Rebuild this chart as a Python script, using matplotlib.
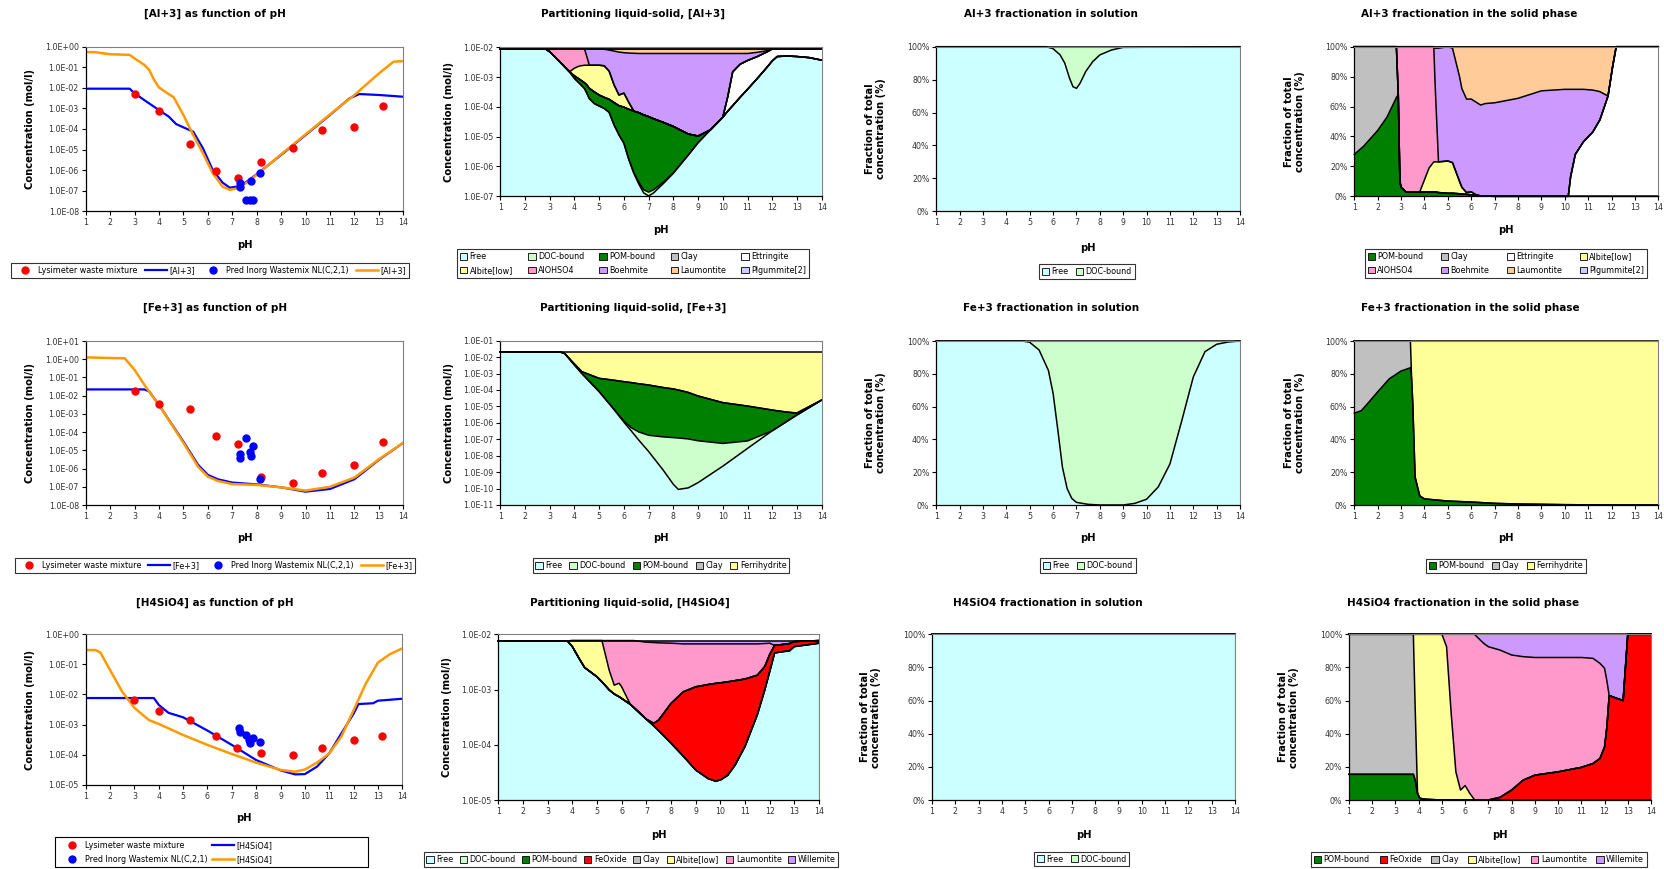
"""
Al+3 / Fe+3 / H4SiO4 vs pH: concentration curves, partitioning liquid-solid,
fractionation in solution and in the solid phase (3 x 4 panels)
"""
import matplotlib
matplotlib.use("Agg")
import matplotlib.pyplot as plt
import numpy as np
from matplotlib.lines import Line2D
from matplotlib.patches import Patch, Rectangle
from matplotlib.ticker import FixedLocator, FuncFormatter, NullLocator

plt.rcParams["font.family"] = ["DejaVu Sans"]

# ==================== 数据 ====================
# measured / predicted points
lys_ph = [3.0, 4.0, 5.27, 6.35, 7.22, 8.18, 9.5, 10.69, 12.0, 13.17]
lys_al = [5.0e-3, 7.8e-4, 1.9e-5, 9.0e-7, 4.0e-7, 2.4e-6, 1.15e-5, 8.9e-5, 1.26e-4, 1.26e-3]
lys_fe = [1.8e-2, 3.3e-3, 1.95e-3, 6.5e-5, 2.3e-5, 3.6e-7, 1.6e-7, 6.0e-7, 1.6e-6, 3.0e-5]
lys_si = [6.6e-3, 2.8e-3, 1.38e-3, 4.2e-4, 1.6e-4, 1.1e-4, 9.5e-5, 1.7e-4, 3.0e-4, 4.3e-4]

pred_ph = [7.30, 7.33, 7.58, 7.72, 7.76, 7.86, 8.15]
pred_al = [2.5e-7, 1.5e-7, 3.5e-8, 3.5e-8, 3.0e-7, 3.5e-8, 7.0e-7]
pred_fe = [6.3e-6, 3.6e-6, 5.0e-5, 8.5e-6, 4.9e-6, 1.7e-5, 2.8e-7]
pred_si = [7.5e-4, 5.8e-4, 4.5e-4, 3.1e-4, 2.4e-4, 3.7e-4, 2.6e-4]

# model curves (blue = model 1, orange = model 2)
al_blue_ph = [1.0, 2.8, 3.0, 3.5, 4.0, 4.4, 4.7, 5.0, 5.4, 5.8, 6.2, 6.6, 6.9, 7.2, 7.5, 8.0,
              9.0, 10.0, 11.0, 11.8, 12.2, 13.0, 14.0]
al_blue = [9.1e-3, 9.1e-3, 5.4e-3, 2.1e-3, 8.3e-4, 4.0e-4, 1.74e-4, 1.2e-4, 7.4e-5, 1.15e-5, 1.0e-6,
           2.5e-7, 1.4e-7, 1.6e-7, 2.3e-7, 6.3e-7, 5.5e-6, 5.1e-5, 4.8e-4, 3.1e-3, 5.0e-3, 4.5e-3, 3.7e-3]
al_orange_ph = [1.0, 1.4, 2.0, 2.8, 3.0, 3.4, 3.6, 3.8, 4.0, 4.3, 4.6, 5.0, 5.4, 5.8, 6.2, 6.6, 6.9,
                7.2, 7.6, 8.0, 9.0, 10.0, 11.0, 12.0, 13.0, 13.6, 14.0]
al_orange = [0.55, 0.54, 0.43, 0.40, 0.27, 0.13, 0.074, 0.024, 0.0105, 5.9e-3, 3.5e-3, 4.8e-4, 5.1e-5,
             6.6e-6, 7.1e-7, 1.6e-7, 1.1e-7, 1.3e-7, 2.5e-7, 5.9e-7, 5.9e-6, 5.5e-5, 5.1e-4, 4.5e-3,
             5.0e-2, 0.186, 0.2]

fe_blue_ph = [1.0, 3.4, 3.6, 4.0, 5.0, 5.6, 6.0, 6.4, 7.0, 8.0, 9.0, 10.0, 11.0, 12.0, 13.0, 14.0]
fe_blue = [2.2e-2, 2.2e-2, 1.7e-2, 3.1e-3, 3.0e-5, 1.6e-6, 4.5e-7, 2.6e-7, 1.7e-7, 1.35e-7, 9.3e-8,
           5.4e-8, 7.6e-8, 2.6e-7, 3.0e-6, 2.6e-5]
fe_orange_ph = [1.0, 2.6, 3.0, 3.5, 4.0, 5.0, 5.6, 6.0, 6.4, 7.0, 8.0, 9.0, 10.0, 11.0, 12.0, 13.0, 14.0]
fe_orange = [1.26, 1.12, 0.26, 0.025, 3.1e-3, 2.6e-5, 1.26e-6, 3.6e-7, 2.1e-7, 1.4e-7, 1.26e-7, 9.3e-8,
             6.2e-8, 1.0e-7, 3.2e-7, 3.2e-6, 2.6e-5]

si_blue_ph = [1.0, 3.8, 4.0, 4.4, 5.0, 6.0, 7.0, 8.0, 9.0, 9.6, 10.0, 10.5, 11.0, 11.5, 12.0, 12.2,
              12.8, 13.0, 14.0]
si_blue = [7.6e-3, 7.6e-3, 4.5e-3, 2.45e-3, 1.74e-3, 6.3e-4, 2.1e-4, 6.6e-5, 3.0e-5, 2.2e-5, 2.25e-5,
           4.0e-5, 1.1e-4, 5.1e-4, 2.3e-3, 4.8e-3, 5.1e-3, 6.2e-3, 7.2e-3]
si_orange_ph = [1.0, 1.4, 1.6, 2.0, 2.5, 3.0, 3.6, 4.0, 5.0, 6.0, 7.0, 8.0, 9.0, 9.6, 10.0, 10.5, 11.0,
                11.5, 12.0, 12.5, 13.0, 13.5, 14.0]
si_orange = [0.3, 0.3, 0.25, 6.5e-2, 1.23e-2, 3.6e-3, 1.4e-3, 1.05e-3, 4.5e-4, 2.1e-4, 1.05e-4, 5.4e-5,
             3.1e-5, 2.7e-5, 3.2e-5, 5.4e-5, 1.1e-4, 4.0e-4, 3.0e-3, 2.3e-2, 0.115, 0.22, 0.34]

# partitioning liquid-solid: upper edge of each stacked layer (mol/l)
al_part_ph = [1.0, 2.8, 3.0, 3.4, 3.8, 4.0, 4.2, 4.4, 4.5, 4.6, 4.8, 5.0, 5.2, 5.4, 5.6, 5.8, 6.0, 6.2,
              6.4, 6.6, 6.8, 7.0, 7.2, 7.6, 8.0, 8.6, 9.0, 9.5, 10.0, 10.2, 10.4, 10.7, 11.0, 11.4,
              11.8, 12.0, 12.2, 12.6, 13.0, 13.5, 14.0]
al_free = [9.1e-3, 9.1e-3, 7.1e-3, 3.3e-3, 1.5e-3, 9.0e-4, 6.2e-4, 4.2e-4, 2.9e-4, 1.9e-4, 1.3e-4,
           1.07e-4, 8.9e-5, 6.6e-5, 2.5e-5, 1.15e-5, 6.0e-6, 1.7e-6, 5.9e-7, 2.6e-7, 1.3e-7, 1.03e-7,
           1.3e-7, 2.7e-7, 5.9e-7, 2.4e-6, 6.3e-6, 1.7e-5, 4.5e-5, 7.2e-5, 1.1e-4, 2.1e-4, 3.9e-4,
           9.1e-4, 2.2e-3, 3.5e-3, 4.9e-3, 5.1e-3, 4.9e-3, 4.5e-3, 3.7e-3]
al_doc = [9.1e-3, 9.1e-3, 7.1e-3, 3.3e-3, 1.5e-3, 9.0e-4, 6.2e-4, 4.2e-4, 2.9e-4, 1.9e-4, 1.3e-4,
          1.07e-4, 8.9e-5, 6.6e-5, 2.5e-5, 1.15e-5, 6.0e-6, 1.7e-6, 6.3e-7, 3.0e-7, 1.65e-7, 1.38e-7,
          1.65e-7, 3.0e-7, 6.2e-7, 2.4e-6, 6.3e-6, 1.7e-5, 4.5e-5, 7.2e-5, 1.1e-4, 2.1e-4, 3.9e-4,
          9.1e-4, 2.2e-3, 3.5e-3, 4.9e-3, 5.1e-3, 4.9e-3, 4.5e-3, 3.7e-3]
al_pom = [9.1e-3, 9.1e-3, 7.1e-3, 3.3e-3, 1.5e-3, 1.1e-3, 8.5e-4, 6.5e-4, 5.5e-4, 4.2e-4, 3.2e-4,
          2.5e-4, 2.1e-4, 1.8e-4, 1.4e-4, 1.1e-4, 9.8e-5, 8.3e-5, 7.2e-5, 6.4e-5, 5.4e-5, 4.7e-5,
          4.0e-5, 3.0e-5, 2.2e-5, 1.23e-5, 1.05e-5, 1.7e-5, 4.5e-5, 7.2e-5, 1.1e-4, 2.1e-4, 3.9e-4,
          9.1e-4, 2.2e-3, 3.5e-3, 4.9e-3, 5.1e-3, 4.9e-3, 4.5e-3, 3.7e-3]
al_ett = [9.1e-3, 9.1e-3, 7.1e-3, 3.3e-3, 1.5e-3, 1.1e-3, 8.5e-4, 6.5e-4, 5.5e-4, 4.2e-4, 3.2e-4,
          2.5e-4, 2.1e-4, 1.8e-4, 1.4e-4, 1.1e-4, 9.8e-5, 8.3e-5, 7.2e-5, 6.4e-5, 5.4e-5, 4.7e-5,
          4.0e-5, 3.0e-5, 2.2e-5, 1.23e-5, 1.05e-5, 1.7e-5, 4.5e-5, 2.2e-4, 1.5e-3, 2.7e-3, 3.6e-3,
          4.9e-3, 7.1e-3, 8.8e-3, 9.1e-3, 9.1e-3, 9.1e-3, 9.1e-3, 9.1e-3]
al_alb = [9.1e-3, 9.1e-3, 7.1e-3, 3.3e-3, 1.5e-3, 2.0e-3, 2.35e-3, 2.5e-3, 2.5e-3, 2.5e-3, 2.5e-3,
          2.5e-3, 2.4e-3, 1.6e-3, 5.5e-4, 2.5e-4, 2.9e-4, 1.4e-4, 7.2e-5, 6.4e-5, 5.4e-5, 4.7e-5,
          4.0e-5, 3.0e-5, 2.2e-5, 1.23e-5, 1.05e-5, 1.7e-5, 4.5e-5, 2.2e-4, 1.5e-3, 2.7e-3, 3.6e-3,
          4.9e-3, 7.1e-3, 8.8e-3, 9.1e-3, 9.1e-3, 9.1e-3, 9.1e-3, 9.1e-3]
al_aloh = [9.1e-3, 9.1e-3, 9.1e-3, 9.1e-3, 9.1e-3, 9.1e-3, 9.1e-3, 9.1e-3, 4.9e-3, 2.5e-3, 2.5e-3,
           2.5e-3, 2.4e-3, 1.6e-3, 5.5e-4, 2.5e-4, 2.9e-4, 1.4e-4, 7.2e-5, 6.4e-5, 5.4e-5, 4.7e-5,
           4.0e-5, 3.0e-5, 2.2e-5, 1.23e-5, 1.05e-5, 1.7e-5, 4.5e-5, 2.2e-4, 1.5e-3, 2.7e-3, 3.6e-3,
           4.9e-3, 7.1e-3, 8.8e-3, 9.1e-3, 9.1e-3, 9.1e-3, 9.1e-3, 9.1e-3]
al_boeh = [9.1e-3, 9.1e-3, 9.1e-3, 9.1e-3, 9.1e-3, 9.1e-3, 9.1e-3, 9.1e-3, 9.1e-3, 9.1e-3, 9.1e-3,
           9.0e-3, 8.6e-3, 8.1e-3, 7.5e-3, 6.9e-3, 6.6e-3, 6.4e-3, 6.3e-3, 6.2e-3, 6.2e-3, 6.2e-3,
           6.2e-3, 6.2e-3, 6.2e-3, 6.2e-3, 6.2e-3, 6.2e-3, 6.2e-3, 6.2e-3, 6.2e-3, 6.2e-3, 6.2e-3,
           6.8e-3, 7.7e-3, 9.1e-3, 9.1e-3, 9.1e-3, 9.1e-3, 9.1e-3, 9.1e-3]
al_total = [9.1e-3] * len(al_part_ph)

fe_part_ph = [1.0, 3.4, 3.6, 4.0, 4.3, 5.0, 5.5, 6.0, 6.3, 6.6, 7.0, 7.6, 8.0, 8.2, 8.6, 9.0, 10.0,
              11.0, 12.0, 12.5, 12.8, 13.0, 14.0]
fe_free = [2.1e-2, 2.1e-2, 1.7e-2, 3.3e-3, 1.0e-3, 7.9e-5, 1.0e-5, 1.1e-6, 3.2e-7, 8.9e-8, 1.8e-8,
           1.26e-9, 1.8e-10, 8.9e-11, 1.1e-10, 2.3e-10, 2.3e-9, 2.8e-8, 3.3e-7, 1.0e-6, 1.95e-6,
           3.0e-6, 2.45e-5]
fe_doc = [2.1e-2, 2.1e-2, 1.7e-2, 3.3e-3, 1.0e-3, 7.9e-5, 1.0e-5, 1.3e-6, 5.0e-7, 2.8e-7, 1.75e-7,
          1.4e-7, 1.26e-7, 1.2e-7, 1.05e-7, 8.1e-8, 5.6e-8, 7.9e-8, 3.3e-7, 1.0e-6, 1.95e-6, 3.0e-6,
          2.45e-5]
fe_pom = [2.1e-2, 2.1e-2, 1.7e-2, 3.8e-3, 1.3e-3, 5.1e-4, 4.1e-4, 3.2e-4, 2.8e-4, 2.4e-4, 2.0e-4,
          1.4e-4, 1.15e-4, 1.0e-4, 7.1e-5, 4.3e-5, 1.7e-5, 1.05e-5, 6.0e-6, 4.7e-6, 4.2e-6, 4.0e-6,
          2.45e-5]
fe_total = [2.1e-2] * len(fe_part_ph)

si_part_ph = [1.0, 3.8, 4.0, 4.3, 4.5, 5.0, 5.2, 5.5, 5.7, 5.9, 6.0, 6.35, 6.5, 7.0, 7.3, 7.5, 8.0,
              8.5, 9.0, 9.5, 9.8, 10.0, 10.3, 10.6, 11.0, 11.5, 11.8, 12.0, 12.2, 12.6, 12.8, 13.0, 14.0]
si_free = [7.6e-3, 7.6e-3, 6.0e-3, 3.5e-3, 2.5e-3, 1.7e-3, 1.38e-3, 9.8e-4, 8.3e-4, 7.4e-4, 6.9e-4,
           5.4e-4, 4.7e-4, 2.9e-4, 2.2e-4, 1.8e-4, 1.07e-4, 6.2e-5, 3.5e-5, 2.45e-5, 2.2e-5, 2.3e-5,
           2.8e-5, 4.3e-5, 9.3e-5, 3.5e-4, 9.8e-4, 2.1e-3, 4.6e-3, 4.9e-3, 5.0e-3, 6.0e-3, 6.9e-3]
si_feox = [7.6e-3, 7.6e-3, 6.0e-3, 3.5e-3, 2.5e-3, 1.7e-3, 1.38e-3, 9.8e-4, 8.3e-4, 7.4e-4, 6.9e-4,
           5.4e-4, 4.7e-4, 2.9e-4, 2.45e-4, 2.8e-4, 5.6e-4, 9.1e-4, 1.12e-3, 1.23e-3, 1.29e-3, 1.32e-3,
           1.38e-3, 1.45e-3, 1.55e-3, 1.82e-3, 2.6e-3, 4.3e-3, 6.3e-3, 6.6e-3, 6.8e-3, 7.4e-3, 7.7e-3]
si_alb = [7.6e-3, 7.6e-3, 7.7e-3, 7.7e-3, 7.7e-3, 7.7e-3, 7.7e-3, 2.2e-3, 1.2e-3, 1.3e-3, 1.12e-3,
          5.4e-4, 4.7e-4, 2.9e-4, 2.45e-4, 2.8e-4, 5.6e-4, 9.1e-4, 1.12e-3, 1.23e-3, 1.29e-3, 1.32e-3,
          1.38e-3, 1.45e-3, 1.55e-3, 1.82e-3, 2.6e-3, 4.3e-3, 6.3e-3, 6.6e-3, 6.8e-3, 7.4e-3, 7.7e-3]
si_laum = [7.6e-3, 7.6e-3, 7.7e-3, 7.7e-3, 7.7e-3, 7.7e-3, 7.7e-3, 7.7e-3, 7.7e-3, 7.7e-3, 7.7e-3,
           7.7e-3, 7.7e-3, 7.2e-3, 7.1e-3, 7.0e-3, 6.9e-3, 6.7e-3, 6.7e-3, 6.7e-3, 6.7e-3, 6.7e-3,
           6.7e-3, 6.7e-3, 6.7e-3, 6.7e-3, 6.8e-3, 6.9e-3, 6.3e-3, 6.6e-3, 6.8e-3, 7.4e-3, 7.7e-3]
si_total = [7.7e-3] * len(si_part_ph)

# fractionation in solution: upper edge of stacked layers (%)
al_solu_ph = [1.0, 5.7, 6.0, 6.3, 6.5, 6.7, 6.85, 7.0, 7.15, 7.4, 7.7, 8.0, 8.5, 9.0, 14.0]
al_solu_free = [100, 100, 98.8, 95, 90, 81, 75.7, 74.7, 77.7, 85, 91, 95, 98, 99.6, 100]
fe_solu_ph = [1.0, 4.7, 5.0, 5.4, 5.8, 6.0, 6.2, 6.4, 6.6, 6.8, 7.0, 7.5, 8.0, 9.0, 9.5, 10.0, 10.5,
              11.0, 11.5, 12.0, 12.5, 13.0, 13.5, 14.0]
fe_solu_free = [100, 100, 99.2, 94.5, 82, 68, 46, 23, 10, 4, 1.6, 0.4, 0, 0, 1, 3.5, 11, 25, 51, 78,
                93.5, 98, 99.4, 100]
si_solu_ph = [1.0, 14.0]
si_solu_free = [100, 100]

# fractionation in the solid phase: upper edge of stacked layers (%)
al_sol_ph = [1.0, 1.4, 2.0, 2.4, 2.8, 2.88, 2.95, 3.0, 3.2, 3.8, 4.2, 4.4, 4.45, 4.6, 5.0, 5.2, 5.5,
             5.6, 5.8, 6.0, 6.2, 6.4, 6.6, 7.0, 8.0, 9.0, 10.0, 10.15, 10.25, 10.45, 10.8, 11.2, 11.5,
             11.85, 12.05, 12.2, 13.0, 14.0]
al_sol_pom = [28, 33.5, 44, 53, 66, 68, 10, 6, 3, 2.7, 3, 3, 3, 2.5, 2, 2, 1.7, 1.5, 1.3, 1, 0.6,
              0.3, 0.1, 0, 0, 0, 0, 0, 0, 0, 0, 0, 0, 0, 0, 0, 0, 0]
al_sol_clay = [100, 100, 100, 100, 100, 68, 10, 6, 3, 2.7, 3, 3, 3, 2.5, 2, 2, 1.7, 1.5, 1.3, 1, 0.6,
               0.3, 0.1, 0, 0, 0, 0, 0, 0, 0, 0, 0, 0, 0, 0, 0, 0, 0]
al_sol_ett = [100, 100, 100, 100, 100, 68, 10, 6, 3, 2.7, 3, 3, 3, 2.5, 2, 2, 1.7, 1.5, 1.3, 1, 0.6,
              0.3, 0.1, 0, 0, 0, 0, 0, 13, 28, 36.5, 43, 51, 67, 87, 100, 100, 100]
al_sol_alb = [100, 100, 100, 100, 100, 68, 10, 6, 3, 3, 19, 23, 23, 23, 23.6, 22.5, 10, 6, 2.5, 3, 1,
              0.3, 0.1, 0, 0, 0, 0, 0, 13, 28, 36.5, 43, 51, 67, 87, 100, 100, 100]
al_sol_aloh = [100, 100, 100, 100, 100, 100, 100, 100, 100, 100, 100, 100, 77, 23, 23.6, 22.5, 10, 6,
               2.5, 3, 1, 0.3, 0.1, 0, 0, 0, 0, 0, 13, 28, 36.5, 43, 51, 67, 87, 100, 100, 100]
al_sol_boeh = [100, 100, 100, 100, 100, 100, 100, 100, 100, 100, 100, 100, 99, 99, 100, 99, 80, 72, 65,
               65, 63, 61, 62, 62.5, 65.5, 70.5, 71.5, 71.5, 71.5, 71.5, 71.5, 71, 70, 67, 87, 100,
               100, 100]
al_sol_total = [100] * len(al_sol_ph)

fe_sol_ph = [1.0, 1.3, 1.7, 2.0, 2.5, 3.0, 3.4, 3.45, 3.5, 3.6, 3.8, 4.0, 5.0, 6.0, 7.0, 8.0, 9.0, 10.0,
             11.0, 12.0, 14.0]
fe_sol_pom = [56, 57.5, 64, 69, 77, 81.7, 83.7, 77, 62, 17, 5.5, 3.7, 2.4, 1.8, 1.0, 0.6, 0.4, 0.2,
              0.1, 0, 0]
fe_sol_clay = [100, 100, 100, 100, 100, 100, 100, 77, 62, 17, 5.5, 3.7, 2.4, 1.8, 1.0, 0.6, 0.4, 0.2,
               0.1, 0, 0]
fe_sol_total = [100] * len(fe_sol_ph)

si_sol_ph = [1.0, 3.77, 3.85, 3.95, 4.05, 4.3, 5.0, 5.2, 5.4, 5.6, 5.8, 6.0, 6.2, 6.4, 6.5, 6.8, 7.0,
             7.5, 8.0, 8.5, 9.0, 10.0, 11.0, 11.5, 11.8, 12.0, 12.1, 12.2, 12.8, 13.0, 14.0]
si_sol_pom = [15.5, 15.5, 12, 4, 1, 0.4, 0, 0, 0, 0, 0, 0, 0, 0, 0, 0, 0, 0, 0, 0, 0, 0, 0, 0, 0, 0,
              0, 0, 0, 0, 0]
si_sol_feox = [15.5, 15.5, 12, 4, 1, 0.4, 0, 0, 0, 0, 0, 0, 0, 0, 0, 0, 0, 1.6, 6, 12, 15, 17, 19.7,
               22, 25, 32, 44, 63, 60, 100, 100]
si_sol_clay = [100, 100, 55, 4, 1, 0.4, 0, 0, 0, 0, 0, 0, 0, 0, 0, 0, 0, 1.6, 6, 12, 15, 17, 19.7,
               22, 25, 32, 44, 63, 60, 100, 100]
si_sol_alb = [100, 100, 100, 100, 100, 100, 100, 92.5, 52, 17, 6, 8.7, 4, 0.2, 0, 0, 0, 1.6, 6, 12, 15,
              17, 19.7, 22, 25, 32, 44, 63, 60, 100, 100]
si_sol_laum = [100, 100, 100, 100, 100, 100, 100, 100, 100, 100, 100, 100, 100, 100, 98.6, 94.5, 92.5,
               90.5, 87.5, 86.5, 86, 86, 86, 85.5, 82.5, 79.5, 72, 63, 60, 100, 100]
si_sol_total = [100] * len(si_sol_ph)

# colours (Excel default palette)
C_FREE, C_DOC, C_POM, C_CLAY = "#CCFFFF", "#CCFFCC", "#008000", "#C0C0C0"
C_WHITE, C_YEL, C_PINK, C_PURP = "#FFFFFF", "#FFFF99", "#FF99CC", "#CC99FF"
C_PEACH, C_PLG, C_RED = "#FFCC99", "#CCCCFF", "#FF0000"
C_BLUE, C_ORANGE = "#0000FF", "#FF9900"

W, H = 1665, 869
fig = plt.figure(figsize=(W / 100, H / 100), dpi=100, facecolor="white")


def add_panel(left, right, top, bottom):
    return fig.add_axes([left / W, 1 - bottom / H, (right - left) / W, (bottom - top) / H])


def ftext(x, y, s, **kw):
    fig.text(x / W, 1 - y / H, s, ha="center", va="center", **kw)


def style_axes(ax, log, ymin=None, ymax=None):
    ax.set_xlim(1, 14)
    ax.set_xticks(range(1, 15))
    if log:
        ax.set_yscale("log")
        ax.set_ylim(ymin, ymax)
        exps = np.arange(round(np.log10(ymin)), round(np.log10(ymax)) + 1)
        ax.yaxis.set_major_locator(FixedLocator(10.0 ** exps))
        ax.yaxis.set_minor_locator(NullLocator())
        ax.yaxis.set_major_formatter(FuncFormatter(lambda v, p: f"{v:.1E}"))
    else:
        ax.set_ylim(0, 100)
        ax.set_yticks(range(0, 101, 20))
        ax.yaxis.set_major_formatter(FuncFormatter(lambda v, p: f"{v:.0f}%"))
    ax.tick_params(labelsize=5.7, labelcolor="#333333", length=3, width=0.8, pad=2, direction="out")
    for side in ("left", "bottom"):
        ax.spines[side].set_color("black")
        ax.spines[side].set_linewidth(0.9)
    for side in ("top", "right"):
        ax.spines[side].set_color("#808080")
        ax.spines[side].set_linewidth(0.8)


def axis_labels(box, title, title_xy, ylab_x, xlab_y, frac):
    left, right, top, bottom = box
    ftext(title_xy[0], title_xy[1], title, fontsize=7.5, fontweight="bold")
    ylab = "Fraction of total\nconcentration (%)" if frac else "Concentration (mol/l)"
    ftext(ylab_x, (top + bottom) / 2, ylab, fontsize=7.2, fontweight="bold", rotation=90,
          linespacing=1.15)
    ftext((left + right) / 2, xlab_y, "pH", fontsize=7.2, fontweight="bold")


def put_legend(ax, handles, names, center, ncol, patches=True, colsp=0.9, frame=None):
    kw = dict(handlelength=0.9, handleheight=0.9) if patches else dict(handlelength=2.7)
    nrow = int(np.ceil(len(names) / ncol))
    if frame is None:
        loc, anchor = "center", (center[0] / W, 1 - center[1] / H)
    else:
        # fixed Excel-sized frame, entries packed at its left side
        x0, x1, y0, y1 = frame
        loc, anchor = "center left", ((x0 + 3) / W, 1 - (y0 + y1) / 2 / H)
        fig.add_artist(Rectangle((x0 / W, 1 - y1 / H), (x1 - x0) / W, (y1 - y0) / H,
                                 transform=fig.transFigure, fill=False, ec="black", lw=0.8))
    leg = ax.legend(handles, names, loc=loc, bbox_to_anchor=anchor, bbox_transform=fig.transFigure,
                    ncol=ncol, fontsize=5.8, frameon=frame is None, fancybox=False, edgecolor="black",
                    borderpad=0.35, handletextpad=0.3, columnspacing=colsp,
                    labelspacing=0.6 if nrow > 1 else 0.35, borderaxespad=0, **kw)
    leg.get_frame().set_linewidth(0.8)


def row_major(items, ncol):
    nrow = int(np.ceil(len(items) / ncol))
    return [items[r * ncol + c] for c in range(ncol) for r in range(nrow) if r * ncol + c < len(items)]


def draw_stack(ax, ph, layers, base):
    lower = np.full(len(ph), base)
    for _, top, color in layers:
        top = np.asarray(top, dtype=float)
        ax.fill_between(ph, lower, top, facecolor=color, edgecolor="none", linewidth=0)
        lower = top
    for _, top, _ in layers:
        ax.plot(ph, top, color="black", lw=1.1, clip_on=False, solid_joinstyle="round")


def conc_panel(box, title, title_xy, ylab_x, xlab_y, ylim, blue, orange, lys, pred, name,
               leg_center, leg_ncol, frame=None):
    ax = add_panel(*box)
    style_axes(ax, True, *ylim)
    ax.plot(blue[0], blue[1], color=C_BLUE, lw=1.6)
    ax.plot(orange[0], orange[1], color=C_ORANGE, lw=1.8)
    ax.plot(lys_ph, lys, "o", color=C_RED, ms=5, mec=C_RED, zorder=4)
    ax.plot(pred_ph, pred, "o", color=C_BLUE, ms=5, mec=C_BLUE, zorder=4)
    axis_labels(box, title, title_xy, ylab_x, xlab_y, False)
    h = [Line2D([], [], ls="none", marker="o", color=C_RED, ms=5),
         Line2D([], [], color=C_BLUE, lw=1.6),
         Line2D([], [], ls="none", marker="o", color=C_BLUE, ms=5),
         Line2D([], [], color=C_ORANGE, lw=1.8)]
    n = ["Lysimeter waste mixture", name, "Pred Inorg Wastemix NL(C,2,1)", name]
    pairs = row_major(list(zip(h, n)), leg_ncol)
    put_legend(ax, [p[0] for p in pairs], [p[1] for p in pairs], leg_center, leg_ncol,
               patches=False, colsp=0.6 if frame else 0.9, frame=frame)


def stack_panel(box, title, title_xy, ylab_x, xlab_y, ph, layers, log, ylim, leg_center, leg_ncol,
                colsp=0.9):
    ax = add_panel(*box)
    style_axes(ax, log, *(ylim if log else (None, None)))
    draw_stack(ax, ph, layers, ylim[0] if log else 0)
    axis_labels(box, title, title_xy, ylab_x, xlab_y, not log)
    items = [(Patch(facecolor=c, edgecolor="black", linewidth=0.6), nm) for nm, _, c in layers]
    items = row_major(items, leg_ncol)
    put_legend(ax, [i[0] for i in items], [i[1] for i in items], leg_center, leg_ncol, colsp=colsp)


# ---------------- row 1: Al+3 ----------------
conc_panel((85.7, 403.3, 46.7, 211.3), "[Al+3] as function of pH", (215, 14), 30.5, 245, (1e-8, 1e0),
           (al_blue_ph, al_blue), (al_orange_ph, al_orange), lys_al, pred_al, "[Al+3]", (210, 270.5), 4)
stack_panel((500.3, 821.7, 47.3, 196.3), "Partitioning liquid-solid, [Al+3]", (633, 14), 448.5, 230,
            al_part_ph,
            [("Free", al_free, C_FREE), ("DOC-bound", al_doc, C_DOC), ("POM-bound", al_pom, C_POM),
             ("Clay", al_pom, C_CLAY), ("Ettringite", al_ett, C_WHITE), ("Albite[low]", al_alb, C_YEL),
             ("AlOHSO4", al_aloh, C_PINK), ("Boehmite", al_boeh, C_PURP),
             ("Laumontite", al_total, C_PEACH), ("Plgummite[2]", al_total, C_PLG)],
            True, (1e-7, 1e-2), (633, 263.5), 5, colsp=1.9)
stack_panel((936.3, 1240, 46.7, 211.3), "Al+3 fractionation in solution", (1051, 14), 875.5, 248,
            al_solu_ph, [("Free", al_solu_free, C_FREE), ("DOC-bound", [100] * len(al_solu_ph), C_DOC)],
            False, (0, 100), (1087, 271.5), 2)
stack_panel((1354.3, 1658.3, 46.7, 196.3), "Al+3 fractionation in the solid phase", (1469, 14), 1294.5,
            230, al_sol_ph,
            [("POM-bound", al_sol_pom, C_POM), ("Clay", al_sol_clay, C_CLAY),
             ("Ettringite", al_sol_ett, C_WHITE), ("Albite[low]", al_sol_alb, C_YEL),
             ("AlOHSO4", al_sol_aloh, C_PINK), ("Boehmite", al_sol_boeh, C_PURP),
             ("Laumontite", al_sol_total, C_PEACH), ("Plgummite[2]", al_sol_total, C_PLG)],
            False, (0, 100), (1506, 263.5), 4, colsp=2.15)

# ---------------- row 2: Fe+3 ----------------
conc_panel((85.7, 403.3, 341, 505), "[Fe+3] as function of pH", (215, 308), 30.5, 538, (1e-8, 1e1),
           (fe_blue_ph, fe_blue), (fe_orange_ph, fe_orange), lys_fe, pred_fe, "[Fe+3]", (215, 565.5), 4)
stack_panel((500.3, 821.7, 340.7, 505), "Partitioning liquid-solid, [Fe+3]", (633, 308), 448.5, 538,
            fe_part_ph,
            [("Free", fe_free, C_FREE), ("DOC-bound", fe_doc, C_DOC), ("POM-bound", fe_pom, C_POM),
             ("Clay", fe_pom, C_CLAY), ("Ferrihydrite", fe_total, C_YEL)],
            True, (1e-11, 1e-1), (661, 565.5), 5)
stack_panel((936.3, 1240, 341, 505), "Fe+3 fractionation in solution", (1051.5, 308), 875.5, 538,
            fe_solu_ph, [("Free", fe_solu_free, C_FREE), ("DOC-bound", [100] * len(fe_solu_ph), C_DOC)],
            False, (0, 100), (1088, 565.5), 2)
stack_panel((1354.3, 1658.3, 341, 505), "Fe+3 fractionation in the solid phase", (1470, 308), 1294.5,
            538, fe_sol_ph,
            [("POM-bound", fe_sol_pom, C_POM), ("Clay", fe_sol_clay, C_CLAY),
             ("Ferrihydrite", fe_sol_total, C_YEL)],
            False, (0, 100), (1506, 566), 3)

# ---------------- row 3: H4SiO4 ----------------
conc_panel((85.7, 402.3, 634.3, 784.7), "[H4SiO4] as function of pH", (215, 602.7), 30.5, 818,
           (1e-5, 1e0), (si_blue_ph, si_blue), (si_orange_ph, si_orange), lys_si, pred_si, "[H4SiO4]",
           (211.7, 852), 2, frame=(55, 368.3, 837.3, 867.3))
stack_panel((498.3, 819, 634.3, 800), "Partitioning liquid-solid, [H4SiO4]", (630, 602.7), 447.5, 835,
            si_part_ph,
            [("Free", si_free, C_FREE), ("DOC-bound", si_free, C_DOC), ("POM-bound", si_free, C_POM),
             ("FeOxide", si_feox, C_RED), ("Clay", si_feox, C_CLAY), ("Albite[low]", si_alb, C_YEL),
             ("Laumontite", si_laum, C_PINK), ("Willemite", si_total, C_PURP)],
            True, (1e-5, 1e-2), (631, 859.5), 8, colsp=0.8)
stack_panel((932, 1235, 634.3, 800), "H4SiO4 fractionation in solution", (1047.5, 602.7), 870.5, 835,
            si_solu_ph, [("Free", si_solu_free, C_FREE), ("DOC-bound", [100] * len(si_solu_ph), C_DOC)],
            False, (0, 100), (1081.7, 859), 2)
stack_panel((1349, 1651, 634.3, 800), "H4SiO4 fractionation in the solid phase", (1463.5, 602.7), 1288.5,
            835, si_sol_ph,
            [("POM-bound", si_sol_pom, C_POM), ("FeOxide", si_sol_feox, C_RED),
             ("Clay", si_sol_clay, C_CLAY), ("Albite[low]", si_sol_alb, C_YEL),
             ("Laumontite", si_sol_laum, C_PINK), ("Willemite", si_sol_total, C_PURP)],
            False, (0, 100), (1479, 859.5), 6, colsp=1.2)

fig.savefig("out.png", dpi=100, facecolor="white")
